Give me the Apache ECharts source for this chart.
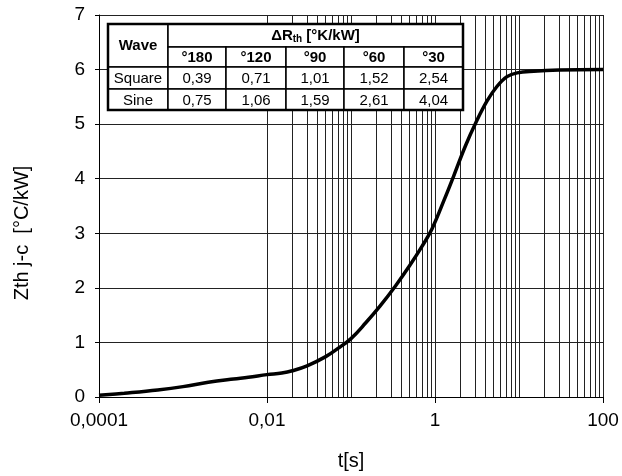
<!DOCTYPE html>
<html>
<head>
<meta charset="utf-8">
<script src="https://cdn.jsdelivr.net/npm/echarts@6/dist/echarts.min.js"></script>
<style>
  html, body { margin: 0; padding: 0; background: #fff; }
  #main { width: 622px; height: 476px; }
</style>
</head>
<body>
<div id="main"></div>
<script>
// Zth j-c transient curve
const timeS = [0.0001, 0.0002, 0.0005, 0.001, 0.002, 0.004, 0.006, 0.01, 0.015, 0.02, 0.03, 0.05, 0.07,
  0.1, 0.15, 0.22, 0.34, 0.5, 0.7, 0.92, 1.3, 1.66, 2.3, 3.07, 4.15, 5.46, 7.2, 9.5, 15, 30, 100];
const zthValues = [0.03, 0.07, 0.13, 0.19, 0.27, 0.33, 0.36, 0.41, 0.44, 0.48, 0.57, 0.74, 0.89,
  1.07, 1.36, 1.66, 2.04, 2.41, 2.76, 3.08, 3.63, 4.04, 4.6, 5.03, 5.42, 5.69, 5.87, 5.94, 5.97, 5.99, 6.0];

const xTickLabels = ['0,0001', '0,001', '0,01', '0,1', '1', '10', '100'];
const yTicks = [0, 1, 2, 3, 4, 5, 6, 7];

// table in the upper left corner
const waveTypes = ['Square', 'Sine'];
const angleHeaders = ['°180', '°120', '°90', '°60', '°30'];
const squareValues = ['0,39', '0,71', '1,01', '1,52', '2,54'];
const sineValues = ['0,75', '1,06', '1,59', '2,61', '4,04'];

const FONT = '"Liberation Sans", Arial, sans-serif';

// minor vertical grid lines: 2..9 of every decade plus the odd decades
let gridLines = [];
for (let e = -4; e < 2; e++) {
  for (let m = 1; m <= 9; m++) {
    if (m === 1 && e % 2 === 0) continue;
    gridLines.push({ xAxis: m * Math.pow(10, e) });
  }
}

function buildTable() {
  const colX = [108, 168, 226, 286, 344, 404, 463];
  const rowY = [24, 47, 67, 89, 110];
  let els = [];
  function cell(x0, y0, x1, y1) {
    els.push({
      type: 'rect', z: 100, shape: { x: x0, y: y0, width: x1 - x0, height: y1 - y0 },
      style: { fill: '#fff', stroke: '#000', lineWidth: 1.5 }
    });
  }
  function txt(s, cx, cy, bold, rich) {
    els.push({
      type: 'text', z: 101, x: cx, y: cy,
      style: {
        text: s, align: 'center', verticalAlign: 'middle', fill: '#000',
        font: (bold ? 'bold ' : '') + '15px ' + FONT, rich: rich
      }
    });
  }
  cell(colX[0], rowY[0], colX[1], rowY[2]);
  txt('Wave', (colX[0] + colX[1]) / 2, (rowY[0] + rowY[2]) / 2, true);
  cell(colX[1], rowY[0], colX[6], rowY[1]);
  txt('{b|ΔR}{s|th}{b| [°K/kW]}', (colX[1] + colX[6]) / 2, (rowY[0] + rowY[1]) / 2, true, {
    b: { fontFamily: FONT, fontWeight: 'bold', fontSize: 15 },
    s: { fontFamily: FONT, fontWeight: 'bold', fontSize: 10, padding: [8, 0, 0, 0] }
  });
  angleHeaders.forEach((h, i) => {
    cell(colX[i + 1], rowY[1], colX[i + 2], rowY[2]);
    txt(h, (colX[i + 1] + colX[i + 2]) / 2, (rowY[1] + rowY[2]) / 2 + 1, true);
  });
  [squareValues, sineValues].forEach((vals, r) => {
    cell(colX[0], rowY[r + 2], colX[1], rowY[r + 3]);
    txt(waveTypes[r], (colX[0] + colX[1]) / 2, (rowY[r + 2] + rowY[r + 3]) / 2 + 1, false);
    vals.forEach((v, i) => {
      cell(colX[i + 1], rowY[r + 2], colX[i + 2], rowY[r + 3]);
      txt(v, (colX[i + 1] + colX[i + 2]) / 2, (rowY[r + 2] + rowY[r + 3]) / 2 + 1, false);
    });
  });
  els.push({
    type: 'rect', z: 102, shape: { x: colX[0], y: rowY[0], width: colX[6] - colX[0], height: rowY[4] - rowY[0] },
    style: { fill: null, stroke: '#000', lineWidth: 2.5 }
  });
  return els;
}

const chart = echarts.init(document.getElementById('main'), null, { renderer: 'canvas' });

const option = {
  animation: false,
  backgroundColor: '#fff',
  textStyle: { fontFamily: FONT, color: '#000' },
  grid: { left: 99, right: 19, top: 15, bottom: 75 },
  xAxis: {
    type: 'log',
    logBase: 10,
    min: 0.0001,
    max: 100,
    interval: 2,
    name: 't[s]',
    nameLocation: 'middle',
    nameGap: 54,
    nameTextStyle: { fontSize: 20, color: '#000', fontFamily: FONT },
    axisLine: { show: true, lineStyle: { color: '#000', width: 1 } },
    axisTick: { show: true, length: 6, inside: false, lineStyle: { color: '#000' } },
    axisLabel: {
      fontSize: 19, color: '#000', margin: 14, fontFamily: FONT,
      formatter: function (v) {
        const k = Math.round(Math.log10(v)) + 4;
        return xTickLabels[k] || '';
      }
    },
    splitLine: { show: true, lineStyle: { color: '#222', width: 1 } }
  },
  yAxis: {
    type: 'value',
    min: yTicks[0],
    max: yTicks[yTicks.length - 1],
    interval: 1,
    axisLine: { show: true, lineStyle: { color: '#000', width: 1 } },
    axisTick: { show: true, length: 4, lineStyle: { color: '#000' } },
    axisLabel: { fontSize: 19, color: '#000', margin: 14, fontFamily: FONT },
    splitLine: { show: true, lineStyle: { color: '#222', width: 1 } }
  },
  graphic: [
    {
      type: 'text', x: 22, y: 233, rotation: Math.PI / 2,
      style: {
        text: 'Zth j-c  [°C/kW]', align: 'center', verticalAlign: 'middle',
        font: '20px ' + FONT, fill: '#000'
      }
    },
    { type: 'group', children: buildTable() }
  ],
  series: [{
    type: 'line',
    data: timeS.map((t, i) => [t, zthValues[i]]),
    showSymbol: false,
    smooth: 0.4,
    z: 10,
    lineStyle: { color: '#000', width: 3.5 },
    markLine: {
      silent: true,
      symbol: ['none', 'none'],
      label: { show: false },
      lineStyle: { color: '#222', width: 1, type: 'solid' },
      z: 1,
      data: gridLines
    }
  }]
};
chart.setOption(option);
</script>
</body>
</html>
